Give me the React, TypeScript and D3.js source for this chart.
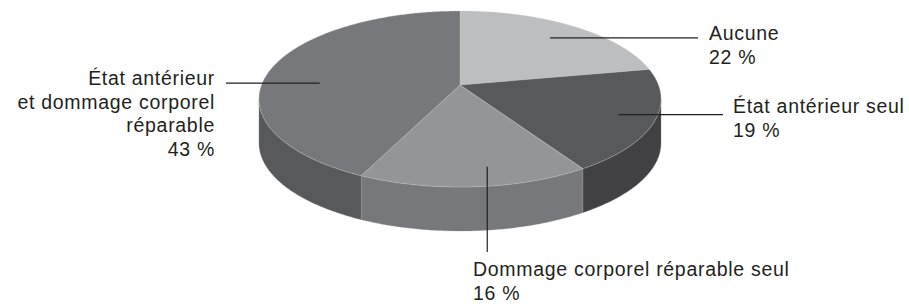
import React from 'react';
import * as d3 from 'd3';

// slices, clockwise from 12 o'clock
const categories = [
  'Aucune',
  'État antérieur seul',
  'Dommage corporel réparable seul',
  'État antérieur et dommage corporel réparable',
];
const values = [22, 19, 16, 43];
const labelLines = [
  ['Aucune', '22 %'],
  ['État antérieur seul', '19 %'],
  ['Dommage corporel réparable seul', '16 %'],
  ['État antérieur', 'et dommage corporel', 'réparable', '43 %'],
];
const topColors = ['#bcbec0', '#58595b', '#939598', '#77787b'];
const sideColors = ['#a7a9ac', '#414042', '#77787b', '#58595b'];

const W = 909;
const H = 306;
const cx = 460;
const cy = 85;
const rx = 198.5;
const ry = 85.8;
const persp = 0.159; // perspective factor, near side looks bigger
const depth = 44;

// label layout: where the leader starts inside the slice, where it ends, where text goes
const labelLayout = [
  { at: 0.5, r: 0.78, kind: 'h', end: 698, tx: 709, ty: 40, anchor: 'start' },
  { at: 0.5, r: 0.825, kind: 'h', end: 723, tx: 733, ty: 113, anchor: 'start' },
  { at: 0.42, r: 0.835, kind: 'v', end: 252, tx: 473, ty: 276, anchor: 'start' },
  { at: 0.43, r: 0.71, kind: 'h', end: 226, tx: 215, ty: 85, anchor: 'end' },
];

const xScale = d3.scaleLinear().domain([-1, 1]).range([cx - rx, cx + rx]);
const yScale = d3.scaleLinear().domain([-1, 1]).range([cy - ry, cy + ry]);

function project(a: number, r = 1): [number, number] {
  const u = r * Math.sin(a);
  const v = -r * Math.cos(a);
  const w = 1 - persp * v;
  return [xScale(u / w), yScale(v / w)];
}

function arcPoints(a0: number, a1: number, dy = 0): [number, number][] {
  const n = Math.max(2, Math.ceil(Math.abs(a1 - a0) / 0.01));
  return d3.range(n + 1).map((i) => {
    const p = project(a0 + ((a1 - a0) * i) / n);
    return [p[0], p[1] + dy] as [number, number];
  });
}

export default function App() {
  const pie = d3.pie<number>().sort(null).value((d) => d);
  const arcs = pie(values);
  const line = d3.line();

  // side wall is visible between the two silhouette tangents
  const tan = Math.asin(persp);
  const visFrom = Math.PI / 2 + tan;
  const visTo = (3 * Math.PI) / 2 - tan;

  const sides = arcs.map((a, i) => {
    const a0 = Math.max(a.startAngle, visFrom);
    const a1 = Math.min(a.endAngle, visTo);
    if (a1 <= a0) return null;
    const pts = [...arcPoints(a0, a1), ...arcPoints(a1, a0, depth)];
    return (
      <path
        key={'s' + i}
        d={line(pts) + 'Z'}
        fill={sideColors[i]}
        stroke="#9a9b9e"
        strokeOpacity={0.35}
        strokeWidth={0.8}
      />
    );
  });

  const tops = arcs.map((a, i) => {
    const pts = [project(0, 0), ...arcPoints(a.startAngle, a.endAngle)];
    return (
      <path
        key={'t' + i}
        d={line(pts) + 'Z'}
        fill={topColors[i]}
        stroke="#d0d1d3"
        strokeOpacity={0.4}
        strokeWidth={0.8}
      />
    );
  });

  const labels = arcs.map((a, i) => {
    const L = labelLayout[i];
    const ang = a.startAngle + (a.endAngle - a.startAngle) * L.at;
    const [x0, y0] = project(ang, L.r);
    const x1 = L.kind === 'h' ? L.end : x0;
    const y1 = L.kind === 'h' ? y0 : L.end;
    return (
      <g key={'l' + i}>
        <line x1={x0} y1={y0} x2={x1} y2={y1} stroke="#231f20" strokeWidth={1.2} />
        <text
          x={L.tx}
          y={L.ty}
          textAnchor={L.anchor}
          fontFamily="'Liberation Sans', Arial, sans-serif"
          fontSize={19.5}
          letterSpacing={0.7}
          fill="#231f20"
        >
          {labelLines[i].map((t, j) => (
            <tspan key={j} x={L.tx} dy={j === 0 ? 0 : 23.5}>
              {t}
            </tspan>
          ))}
        </text>
      </g>
    );
  });

  return (
    <svg
      width={W}
      height={H}
      style={{ position: 'absolute', left: 0, top: 0, background: '#fff' }}
    >
      <title>{categories.join(', ')}</title>
      {sides}
      {tops}
      {labels}
    </svg>
  );
}
